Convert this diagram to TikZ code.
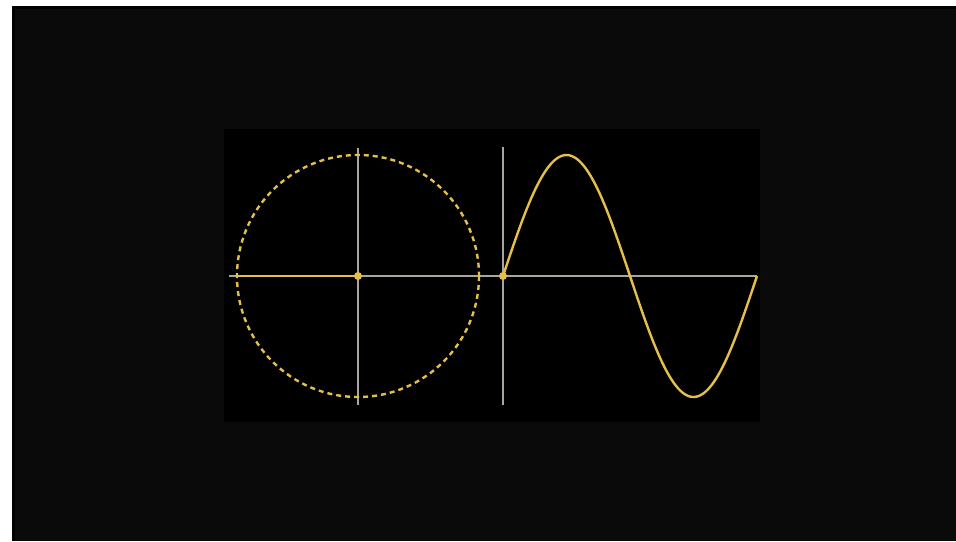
\documentclass[tikz,border=0pt]{standalone}
\usetikzlibrary{calc}
\definecolor{cgold}{HTML}{E4C04A}
\definecolor{caxis}{HTML}{A9A79C}
\definecolor{cstage}{HTML}{0A0A0A}
\begin{document}
\begin{tikzpicture}[x=1pt, y=-1pt,
  axis/.style={draw=caxis, line width=1.8pt},
  wave/.style={draw=cgold, line width=2.4pt, line join=round},
  rim/.style={draw=cgold, line width=2.4pt, dash pattern=on 5pt off 4pt},
  dot/.style={circle, fill=cgold, inner sep=0pt, minimum size=8pt}]
\useasboundingbox (0,0) rectangle (956,541);
%% backdrop
\fill[white] (0,0) rectangle (956,541);
\fill[black] (12,6) rectangle (956,541);
\fill[cstage] (14.5,8.5) rectangle (956,541);
\fill[black] (224,129) rectangle (760,422);
%% unit circle
\coordinate (O) at (358,276);
\coordinate (P) at (237,276);
\draw[axis] (229,276) -- (757,276);
\draw[axis] (358,148) -- (358,405);
\draw[rim] (O) circle[radius=121];
\draw[wave] (P) -- (O);
\node[dot] (c) at (O) {};
%% sine
\coordinate (S) at (503,276);
\draw[axis] (503,147) -- (503,405);
\draw[wave] plot[domain=0:360, samples=120] ({503+\x/360*254}, {276-121*sin(\x)});
\node[dot] (s) at (S) {};
\end{tikzpicture}
\end{document}
